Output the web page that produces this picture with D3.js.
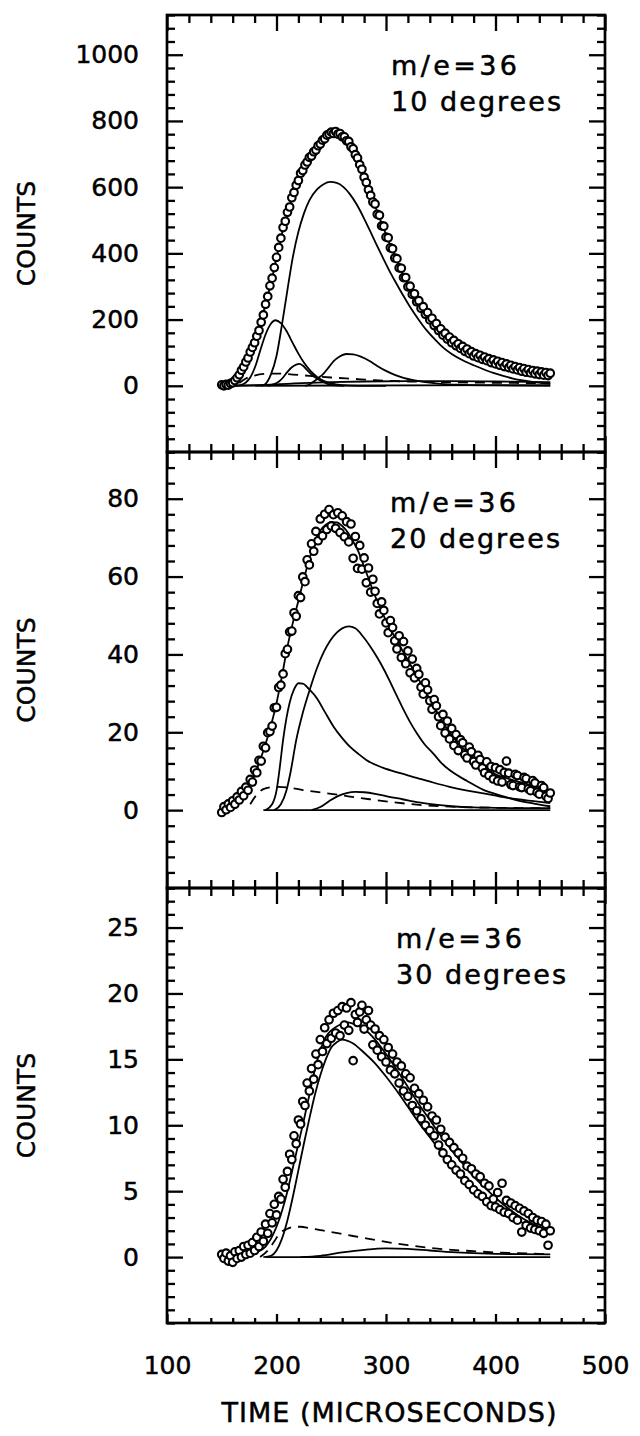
<!DOCTYPE html>
<html>
<head>
<meta charset="utf-8">
<script src="https://cdn.jsdelivr.net/npm/d3@7"></script>
<style>
  html, body { margin: 0; padding: 0; background: #fff; }
  svg text { font-family: "DejaVu Sans", "Liberation Sans", Arial, sans-serif; fill: #000; stroke: #000; stroke-width: 0.5px; }
</style>
</head>
<body>
<svg id="chart" width="640" height="1436"></svg>
<script>
// ---- shared time axis (microseconds) ----
const timeDomain = [100, 500];
const timeTicks = [100, 200, 300, 400, 500];
const timeMinorStep = 20;

// sampling times of the measured counts
const timeUs = [150,152,154,156,158,160,162,164,166,168,170,172,174,176,178,180,182,184,186,188,
  190,192,194,196,198,200,202,204,206,208,210,212,214,216,218,220,222,224,226,228,
  230,232,234,236,238,240,242,244,246,248,250,252,254,256,258,260,262,264,266,268,
  270,272,274,276,278,280,282,284,286,288,290,292,294,296,298,300,302,304,306,308,
  310,312,314,316,318,320,322,324,326,328,330,332,334,336,338,340,342,344,346,348,
  350,352,354,356,358,360,362,364,366,368,370,372,374,376,378,380,382,384,386,388,
  390,392,394,396,398,400,402,404,406,408,410,412,414,416,418,420,422,424,426,428,
  430,432,434,436,438,440,442,444,446,448,450];

// ---- 10 degrees ----
const yDomain10 = [-200, 1120];
const yTicks10 = [0, 200, 400, 600, 800, 1000];
const yMinorStep10 = 40;
const counts10 = [3,0,4,2,7,9,16,24,33,47,
  57,72,84,102,116,130,150,167,192,214,
  246,270,302,325,357,388,418,446,478,497,
  524,540,568,584,606,620,642,650,667,676,
  690,694,707,712,725,730,742,746,757,760,
  766,762,768,760,762,752,752,740,738,722,
  716,698,688,668,654,630,614,592,575,555,
  549,518,515,483,482,449,447,417,414,386,
  384,356,355,327,327,299,301,276,278,254,
  257,234,239,216,221,199,204,182,188,167,
  172,153,159,141,147,130,137,121,127,113,
  119,104,111,97,103,90,97,85,92,80,
  87,76,82,70,78,66,74,62,70,58,
  66,55,62,51,58,48,55,44,52,41,
  49,39,46,36,44,34,42,32,40,31,
  38];
const fit10 = [[150,2],[156,3],[160,9],[165,28],[170,57],[175,92],[180,132],[185,180],[190,248],[195,310],
  [200,388],[205,460],[210,522],[215,575],[220,622],[225,660],[230,690],[235,712],[240,732],[245,750],
  [250,762],[255,765],[260,758],[265,740],[270,716],[275,680],[280,634],[285,588],[290,543],[295,500],
  [300,457],[305,416],[310,378],[315,340],[320,306],[325,276],[330,250],[335,228],[340,206],[345,185],
  [350,166],[355,150],[360,136],[365,124],[370,113],[375,104],[380,95],[390,82],[400,71],[410,61],
  [420,52],[430,44],[440,38],[450,34]];
const peakMain10 = [[186,0],[190,6],[195,35],[200,90],[205,185],[210,290],[215,390],[220,465],[225,520],[230,560],
  [237,593],[243,609],[249,616],[255,613],[261,601],[267,579],[273,549],[279,512],[285,471],[291,429],
  [297,388],[303,348],[310,306],[316,271],[322,238],[330,199],[337,168],[345,139],[352,116],[360,96],
  [370,77],[380,62],[389,50],[398,39],[407,30],[416,22],[425,16],[437,10],[450,6]];
const peakEarly10 = [[163,0],[168,3],[172,10],[176,25],[181,62],[185,105],[190,155],[195,188],[199,198],[204,189],
  [209,166],[215,128],[220,97],[225,70],[231,45],[237,27],[243,15],[250,7],[260,2],[275,0],[300,0]];
const peakSmall10 = [[192,0],[197,4],[202,12],[206,25],[210,42],[214,56],[218,64],[221,66],[224,61],[228,47],
  [232,34],[237,22],[242,12],[247,5],[253,1],[262,0]];
const peakLate10 = [[226,0],[230,4],[234,13],[238,23],[243,37],[248,57],[252,74],[257,87],[264,96],[270,95],
  [277,88],[285,75],[292,60],[300,45],[308,33],[316,24],[325,17],[334,12],[350,6],[370,3],[400,1],[450,0]];
const broad10 = [[152,0],[170,1],[190,3],[210,6],[230,9],[250,11],[280,13],[320,14],[360,14],[400,13],[450,11]];
const flat10 = [[152,0],[450,2]];
const dashed10 = [[166,8],[172,22],[180,31],[190,36],[200,37],[215,34],[230,30],[250,25],[270,21],[290,17],
  [320,13],[350,11],[400,9],[450,8]];

// ---- 20 degrees ----
const yDomain20 = [-20, 92];
const yTicks20 = [0, 20, 40, 60, 80];
const yMinorStep20 = 4;
const counts20 = [-0.6,0.9,0.1,1.6,0.7,2.4,1.5,3.4,2.6,4.8,
  3.7,5.9,5.1,7.9,7.2,10.3,9.6,12.8,12.6,16.4,
  16.0,19.9,20.2,21.6,26.3,26.4,31.5,32.1,35.0,40.2,
  41.3,45.8,46.0,50.7,49.8,55.1,54.6,59.9,58.7,64.3,
  63.0,68.4,66.5,71.6,69.2,74.8,70.5,76.0,72.1,77.2,
  73.0,75.9,72.4,76.4,71.3,75.6,70.2,74.1,68.9,73.5,
  64.7,70.3,62.1,68.0,61.9,64.8,58.4,62.2,56.0,59.3,
  56.2,53.1,50.4,53.5,51.3,48.1,45.6,48.7,46.9,43.5,
  41.4,44.8,39.2,43.3,37.6,40.9,35.3,38.8,34.0,36.4,
  34.9,31.6,29.8,32.7,30.9,28.1,25.9,28.4,26.8,24.0,
  21.7,24.6,19.8,22.9,18.3,21.0,16.6,19.4,15.3,18.1,
  17.3,14.2,13.4,16.2,15.0,12.5,11.6,14.1,13.0,10.8,
  9.6,12.4,8.9,11.2,8.0,10.9,7.5,10.4,7.2,9.7,
  12.6,9.5,6.6,6.3,9.2,8.9,6.0,5.8,8.4,8.1,
  5.5,5.0,7.6,7.0,4.6,4.1,6.3,5.8,3.6,3.0,
  4.4];
const fit20 = [[150,0],[155,0.6],[160,1.7],[165,3.0],[170,4.5],[175,6.5],[180,9.2],[185,12.8],[190,17],[195,21.8],
  [200,27.5],[205,34.5],[210,42],[215,48.2],[220,53.8],[225,59.4],[230,64.5],[235,68.8],[240,71.8],[245,73.3],
  [250,74],[255,73.9],[260,73],[265,71.4],[270,69],[275,66.3],[280,62.5],[285,58.8],[290,55],[295,51.8],
  [300,48.7],[310,43.5],[320,38.5],[330,33.5],[340,28.5],[350,23.5],[360,19.2],[370,16],[380,13.5],[390,11],
  [400,9.2],[410,8.2],[420,7.4],[430,6.6],[440,5.3],[450,3.6]];
const peakEarly20 = [[190,0],[196,1.5],[200,5],[203,11],[206,18],[209,23.5],[212,27.6],[216,31],[220,32.6],[224,32.5],
  [230,31],[237,28.7],[244,25.3],[252,21.5],[260,18.5],[267,16.3],[275,14.4],[282,12.9],[297,10.9],[313,9.5],
  [328,8.3],[343,7.1],[358,6.0],[373,5.1],[389,4.3],[404,3.5],[420,2.8],[435,2.3],[450,1.8]];
const peakMain20 = [[198,0],[204,1.5],[209,5],[213,10],[218,18],[224,25],[231,31.5],[237,36.5],[243,40.5],[249,43.5],
  [255,45.6],[260,46.7],[266,47.2],[272,46.7],[279,44.6],[285,42.3],[292,39.2],[298,36.2],[304,32.8],[310,29.3],
  [316,25.8],[322,22.6],[328,19.8],[335,17],[343,14.6],[350,12.3],[358,10.3],[366,8.8],[374,7.5],[389,5.2],
  [404,3.8],[419,2.6],[435,1.7],[450,1.0]];
const peakSmall20 = [[232,0],[240,0.8],[248,2.3],[256,3.6],[264,4.4],[272,4.7],[280,4.6],[290,4.2],[300,3.6],[315,2.8],
  [330,2.0],[345,1.4],[360,1.0],[380,0.7],[400,0.6],[420,0.5],[450,0.5]];
const flat20 = [[188,0],[450,0]];
const dashed20 = [[176,1.5],[182,4],[188,5.4],[195,5.9],[202,6],[215,5.6],[230,4.9],[250,4.2],[267,3.5],[285,2.8],
  [305,2.1],[328,1.4],[350,1.0],[370,0.8],[400,0.6],[450,0.5]];

// ---- 30 degrees ----
const yDomain30 = [-5, 28];
const yTicks30 = [0, 5, 10, 15, 20, 25];
const yMinorStep30 = 1;
const counts30 = [0.2,-0.1,0.3,-0.3,0.1,-0.4,0.4,-0.1,0.5,0.0,
  0.8,0.2,0.9,0.3,1.1,0.5,1.5,0.8,1.9,1.2,
  2.5,1.8,3.3,2.6,4.0,3.2,4.6,4.4,5.9,5.3,
  6.5,7.8,7.4,9.2,8.6,10.4,10.1,11.8,11.5,13.2,
  12.6,14.3,13.5,15.4,14.6,16.5,15.6,17.4,16.2,18.0,
  16.6,18.5,17.0,18.7,16.8,19.0,17.6,18.9,17.2,19.3,
  14.9,18.4,17.8,18.6,19.1,17.3,18.0,18.7,17.6,16.1,
  17.3,15.7,16.8,15.2,16.5,14.8,15.9,14.2,15.4,13.9,
  14.8,13.2,14.5,12.6,13.9,12.2,13.6,11.5,12.8,11.1,
  12.4,10.5,11.9,10.0,11.4,9.6,10.7,9.2,10.4,8.5,
  9.7,7.9,9.1,7.4,8.7,7.0,8.3,6.6,7.9,6.3,
  7.5,5.8,6.9,5.5,6.7,5.1,6.3,4.8,6.1,4.6,
  5.6,4.2,5.4,3.9,4.4,3.8,4.9,3.6,5.6,3.4,
  4.3,3.3,4.1,3.0,3.9,2.8,3.7,1.9,3.5,2.4,
  3.3,2.2,3.0,2.1,2.8,2.0,2.7,1.8,2.5,0.9,
  2.0];
const fit30 = [[150,0],[170,0.05],[180,0.3],[190,0.8],[195,1.4],[200,2.3],[205,3.5],[210,5.0],[215,6.8],[220,8.6],
  [225,10.4],[230,12.3],[235,14.2],[240,15.7],[245,16.7],[250,17.2],[255,17.5],[260,17.7],[265,17.8],[270,17.7],
  [280,17.3],[290,16.5],[300,15.4],[310,14.2],[320,12.9],[330,11.6],[340,10.4],[350,9.2],[360,8.1],[370,7.1],
  [380,6.1],[390,5.3],[400,4.5],[410,3.8],[420,3.2],[430,2.7],[440,2.3],[450,2.0]];
const peakMain30 = [[188,0],[195,0.1],[200,0.5],[205,1.4],[210,2.8],[215,4.6],[220,6.6],[225,8.6],[230,10.5],[235,12.3],
  [240,13.8],[245,15.0],[250,15.9],[255,16.3],[260,16.5],[265,16.4],[270,16.2],[280,15.5],[290,14.7],[300,13.7],
  [310,12.6],[320,11.4],[330,10.2],[340,9.1],[350,8.0],[360,7.0],[370,6.1],[380,5.3],[390,4.6],[400,3.9],
  [410,3.3],[420,2.8],[430,2.4],[440,2.0],[450,1.7]];
const peakLate30 = [[222,0],[240,0.1],[260,0.35],[280,0.55],[300,0.66],[320,0.62],[340,0.5],[360,0.38],[380,0.3],[400,0.25],
  [420,0.22],[450,0.2]];
const flat30 = [[190,0],[450,0]];
const dashed30 = [[185,0],[192,0.5],[198,1.2],[203,1.8],[210,2.15],[216,2.3],[222,2.3],[230,2.2],[240,2.05],[250,1.9],
  [260,1.75],[270,1.6],[280,1.45],[290,1.3],[300,1.15],[320,0.9],[340,0.7],[360,0.55],[380,0.45],[400,0.35],
  [420,0.3],[450,0.2]];

// ---- text ----
const massLabel = "m/e=36";
const angleLabels = ["10 degrees", "20 degrees", "30 degrees"];
const yTitle = "COUNTS";
const xTitle = "TIME (MICROSECONDS)";

// ---- layout ----
const plotLeft = 167, plotRight = 605;
const panelTops = [15, 452, 888];
const panelBottoms = [452, 888, 1323];
const fontStack = '"DejaVu Sans", "Liberation Sans", Arial, sans-serif';

const panels = [
  { counts: counts10, yDomain: yDomain10, yTicks: yTicks10, yMinor: yMinorStep10,
    solid: [fit10, peakMain10, peakEarly10, peakSmall10, peakLate10, broad10, flat10], dashed: dashed10,
    angle: angleLabels[0], labelX: 391 },
  { counts: counts20, yDomain: yDomain20, yTicks: yTicks20, yMinor: yMinorStep20,
    solid: [fit20, peakEarly20, peakMain20, peakSmall20, flat20], dashed: dashed20,
    angle: angleLabels[1], labelX: 390 },
  { counts: counts30, yDomain: yDomain30, yTicks: yTicks30, yMinor: yMinorStep30,
    solid: [fit30, peakMain30, peakLate30, flat30], dashed: dashed30,
    angle: angleLabels[2], labelX: 396 }
];

const svg = d3.select("#chart");
svg.append("rect").attr("width", 640).attr("height", 1436).attr("fill", "#fff");

const x = d3.scaleLinear().domain(timeDomain).range([plotLeft, plotRight]);
const xMinor = d3.range(timeDomain[0], timeDomain[1] + 1e-9, timeMinorStep)
  .filter(v => !timeTicks.includes(v));

function styleAxis(g, labelled) {
  g.select(".domain").remove();
  g.selectAll(".tick line").attr("stroke", "#000").attr("stroke-width", 2.3);
  g.selectAll(".tick text")
    .style("font-family", fontStack)
    .style("font-size", "25px")
    .attr("fill", "#000");
  if (!labelled) g.selectAll(".tick text").remove();
}

function axisPair(parent, gen, major, minor, majorLen, minorLen, labelled, pad, transform) {
  const gMinor = parent.append("g").attr("transform", transform)
    .call(gen().tickValues(minor).tickSize(-minorLen).tickFormat(""));
  styleAxis(gMinor, false);
  const gMajor = parent.append("g").attr("transform", transform)
    .call(gen().tickValues(major).tickSize(-majorLen).tickPadding(pad || 3).tickFormat(d3.format("d")));
  styleAxis(gMajor, labelled);
  return gMajor;
}

panels.forEach((p, i) => {
  const top = panelTops[i], bottom = panelBottoms[i];
  const y = d3.scaleLinear().domain(p.yDomain).range([bottom, top]);
  const g = svg.append("g");

  const yAll = d3.range(p.yDomain[0], p.yDomain[1] + 1e-9, p.yMinor).map(v => +v.toFixed(6));
  const yMinor = yAll.filter(v => !p.yTicks.includes(v));
  const yMajor = p.yTicks.slice();

  // fitted components
  const line = d3.line().x(d => x(d[0])).y(d => y(d[1])).curve(d3.curveMonotoneX);
  p.solid.forEach(s => {
    g.append("path").attr("d", line(s)).attr("fill", "none")
      .attr("stroke", "#000").attr("stroke-width", 1.8).attr("stroke-linejoin", "round");
  });
  g.append("path").attr("d", line(p.dashed)).attr("fill", "none")
    .attr("stroke", "#000").attr("stroke-width", 1.8).attr("stroke-dasharray", "10,7");

  // measured counts
  const pts = d3.zip(timeUs, p.counts);
  g.append("g").selectAll("circle").data(pts).join("circle")
    .attr("cx", d => x(d[0])).attr("cy", d => y(d[1])).attr("r", 3.8)
    .attr("fill", "#fff").attr("stroke", "#000").attr("stroke-width", 2.1);

  // axes: ticks point inward on every side
  axisPair(g, () => d3.axisLeft(y), yMajor, yMinor, 16, 8, true, 28, `translate(${plotLeft},0)`);
  axisPair(g, () => d3.axisRight(y), yMajor, yMinor, 16, 8, false, 3, `translate(${plotRight},0)`);
  axisPair(g, () => d3.axisTop(x), timeTicks, xMinor, 16, 8, false, 3, `translate(0,${top})`);
  if (i === panels.length - 1) {
    axisPair(g, () => d3.axisBottom(x), timeTicks, xMinor, 9, 5, true, 33, `translate(0,${bottom})`);
  } else {
    axisPair(g, () => d3.axisBottom(x), timeTicks, xMinor, 16, 8, false, 3, `translate(0,${bottom})`);
  }

  // frame
  g.append("rect").attr("x", plotLeft).attr("y", top)
    .attr("width", plotRight - plotLeft).attr("height", bottom - top)
    .attr("fill", "none").attr("stroke", "#000").attr("stroke-width", 2.7);

  // panel annotation
  g.append("text").attr("x", p.labelX).attr("y", top + 60)
    .attr("font-size", 27).attr("textLength", 126).attr("lengthAdjust", "spacing")
    .text(massLabel);
  g.append("text").attr("x", p.labelX).attr("y", top + 96)
    .attr("font-size", 27).attr("textLength", 170).attr("lengthAdjust", "spacing")
    .text(p.angle);

  // y title
  g.append("text")
    .attr("transform", `translate(26,${(top + bottom) / 2}) rotate(-90)`)
    .attr("text-anchor", "middle").attr("dominant-baseline", "central")
    .attr("font-size", 25).text(yTitle);
});

svg.append("text").attr("x", 389).attr("y", 1422).attr("text-anchor", "middle")
  .attr("font-size", 27).attr("textLength", 335).attr("lengthAdjust", "spacing")
  .text(xTitle);
</script>
</body>
</html>
